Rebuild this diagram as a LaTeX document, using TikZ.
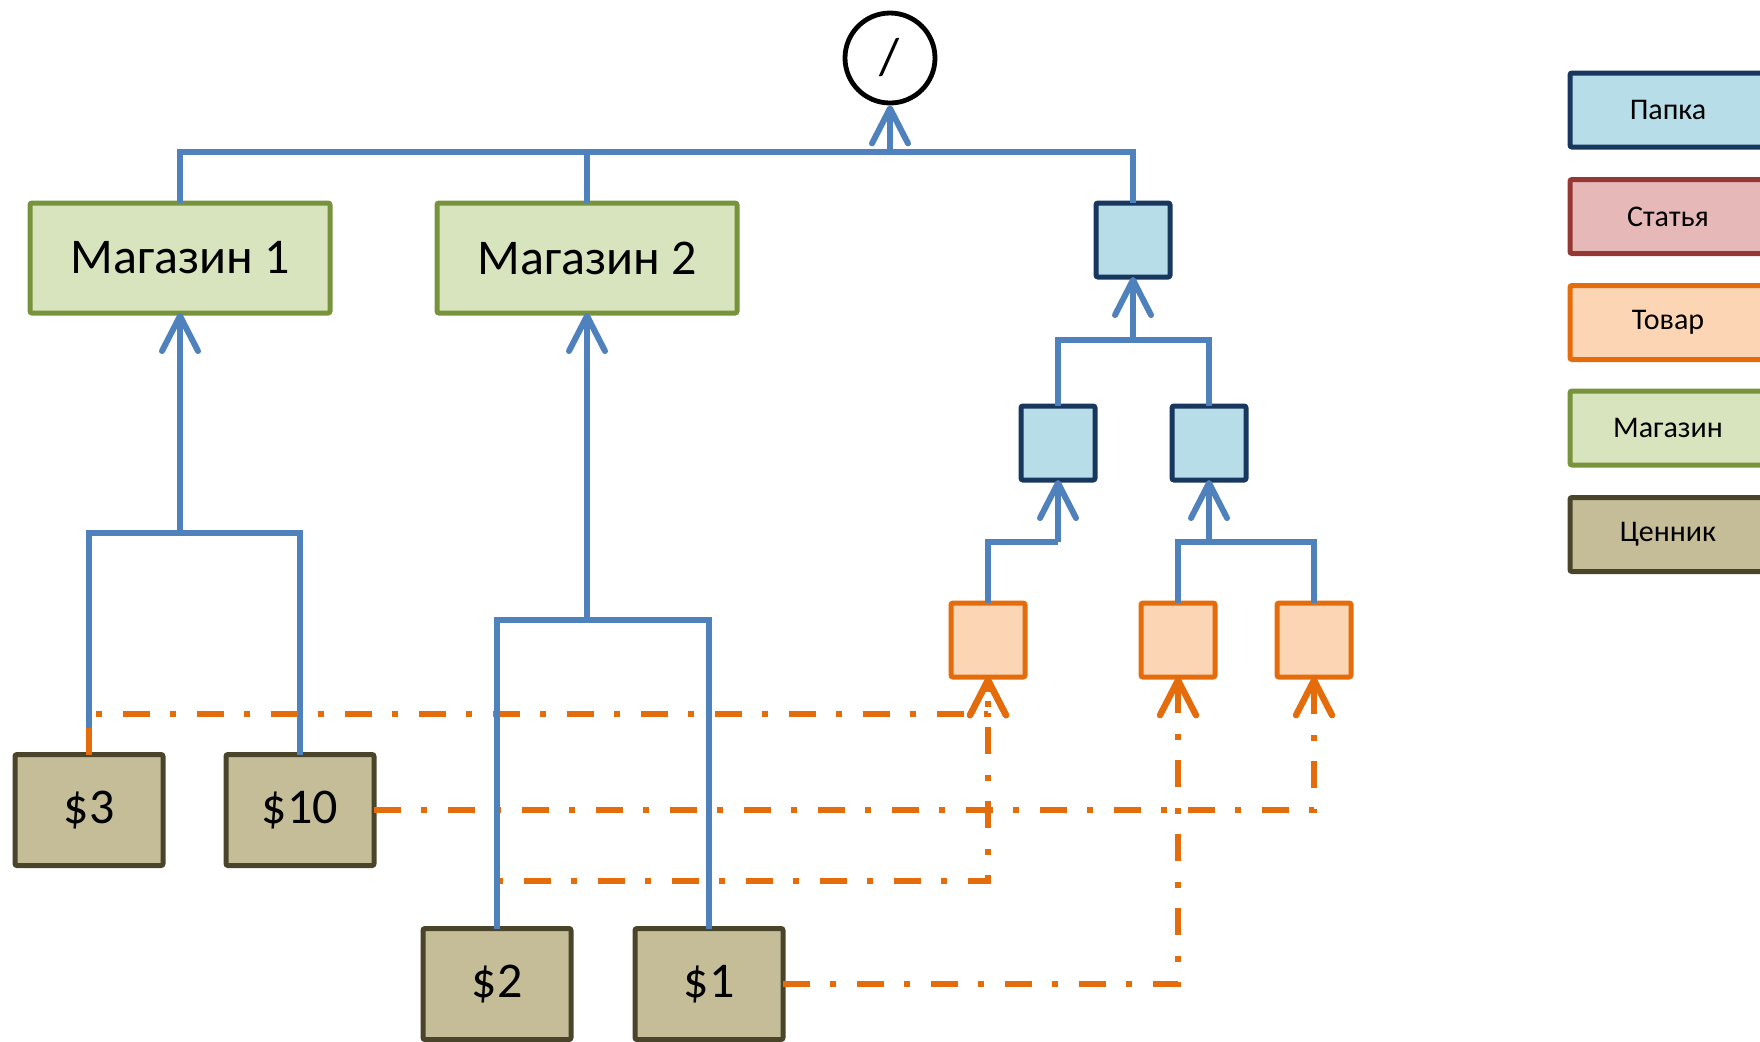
\documentclass[tikz,border=0pt]{standalone}
\usepackage{fontspec}
\setmainfont{Carlito}
\usetikzlibrary{arrows.meta}
\definecolor{blueC}{HTML}{4F81BD}
\definecolor{orC}{HTML}{E46C0A}
\definecolor{folderF}{HTML}{B7DDE8}
\definecolor{folderD}{HTML}{17375E}
\definecolor{artF}{HTML}{E6B9B8}
\definecolor{artD}{HTML}{953735}
\definecolor{itemF}{HTML}{FCD5B5}
\definecolor{itemD}{HTML}{E46C0A}
\definecolor{shopF}{HTML}{D7E4BD}
\definecolor{shopD}{HTML}{77933C}
\definecolor{tagF}{HTML}{C4BD97}
\definecolor{tagD}{HTML}{4A452A}
\tikzset{
  x=0.5pt, y=-0.5pt,
  box/.style={draw, line width=2.5pt, rounded corners=1pt, inner sep=0pt, outer sep=0pt},
  shopbox/.style={box, fill=shopF, draw=shopD, minimum width=150pt, minimum height=55pt, font=\fontsize{25}{30}\selectfont},
  tagbox/.style={box, fill=tagF, draw=tagD, minimum width=74pt, minimum height=55.5pt, font=\fontsize{25}{30}\selectfont},
  folderbox/.style={box, fill=folderF, draw=folderD, minimum width=37pt, minimum height=37pt},
  itembox/.style={box, fill=itemF, draw=itemD, minimum width=37pt, minimum height=37pt},
  legbox/.style={box, minimum width=98pt, minimum height=37pt, font=\fontsize{15}{18}\selectfont},
  bl/.style={draw=blueC, line width=3pt},
  orl/.style={draw=orC, line width=3.2pt, dash pattern=on 13.5pt off 10pt on 3pt off 10.5pt},
  arr/.style={-{Straight Barb[length=17.5pt,width=18pt,round]}},
}
\begin{document}
\begin{tikzpicture}
\useasboundingbox (0,0) rectangle (1760,1041);
% nodes
\node[circle, draw=black, line width=2.4pt, minimum size=45pt, inner sep=0pt, font=\fontsize{26}{30}\selectfont] (root) at (890,58) {/};
\node[shopbox] (m1) at (180,258) {Магазин 1};
\node[shopbox] (m2) at (587,258) {Магазин 2};
\node[folderbox] (f1) at (1133,240) {};
\node[folderbox] (f2a) at (1058,443) {};
\node[folderbox] (f2b) at (1209,443) {};
\node[itembox] (t1) at (988,640) {};
\node[itembox] (t2) at (1178,640) {};
\node[itembox] (t3) at (1314,640) {};
\node[tagbox] (p3) at (89,810) {\$3};
\node[tagbox] (p10) at (300,810) {\$10};
\node[tagbox] (p2) at (497,984) {\$2};
\node[tagbox] (p1) at (709,984) {\$1};
% legend
\node[legbox, fill=folderF, draw=folderD] (lg1) at (1668,110) {Папка};
\node[legbox, fill=artF, draw=artD] (lg2) at (1668,216.5) {Статья};
\node[legbox, fill=itemF, draw=itemD] (lg3) at (1668,322.5) {Товар};
\node[legbox, fill=shopF, draw=shopD] (lg4) at (1668,428) {Магазин};
\node[legbox, fill=tagF, draw=tagD] (lg5) at (1668,534.5) {Ценник};
% store 1 tree
\coordinate (j1) at (180,533);
\draw[bl] (p3.north) |- (j1) -| (p10.north);
\draw[bl,arr] (j1) -- (m1.south);
% orange price links
\coordinate (o1) at (988,714);
\coordinate (o2) at (1314,810);
\coordinate (o3) at (1178,984);
\coordinate (o4) at (988,881);
\draw[orl,arr] (p3.north) |- (o1) -- (t1.south);
\draw[orl,arr] (p10.east) -- (o2) -- (t3.south);
\draw[orl,arr] (p1.east) -- (o3) -- (t2.south);
\draw[orl,arr] (p2.north) |- (o4) -- (t1.south);
% store 2 tree
\coordinate (j2) at (587,620);
\draw[bl] (p2.north) |- (j2) -| (p1.north);
\draw[bl,arr] (j2) -- (m2.south);
% folder tree
\coordinate (j4) at (1058,542);
\draw[bl] (t1.north) |- (j4);
\draw[bl,arr] (j4) -- (f2a.south);
\coordinate (j5) at (1209,542);
\draw[bl] (t2.north) |- (j5) -| (t3.north);
\draw[bl,arr] (j5) -- (f2b.south);
\coordinate (j3) at (1133,340);
\draw[bl] (f2a.north) |- (j3) -| (f2b.north);
\draw[bl,arr] (j3) -- (f1.south);
\coordinate (j0) at (890,152);
\draw[bl] (m1.north) |- (j0) -| (f1.north);
\draw[bl] (m2.north) -- (m2.north |- j0);
\draw[bl,arr] (j0) -- (root.south);
\end{tikzpicture}
\end{document}
